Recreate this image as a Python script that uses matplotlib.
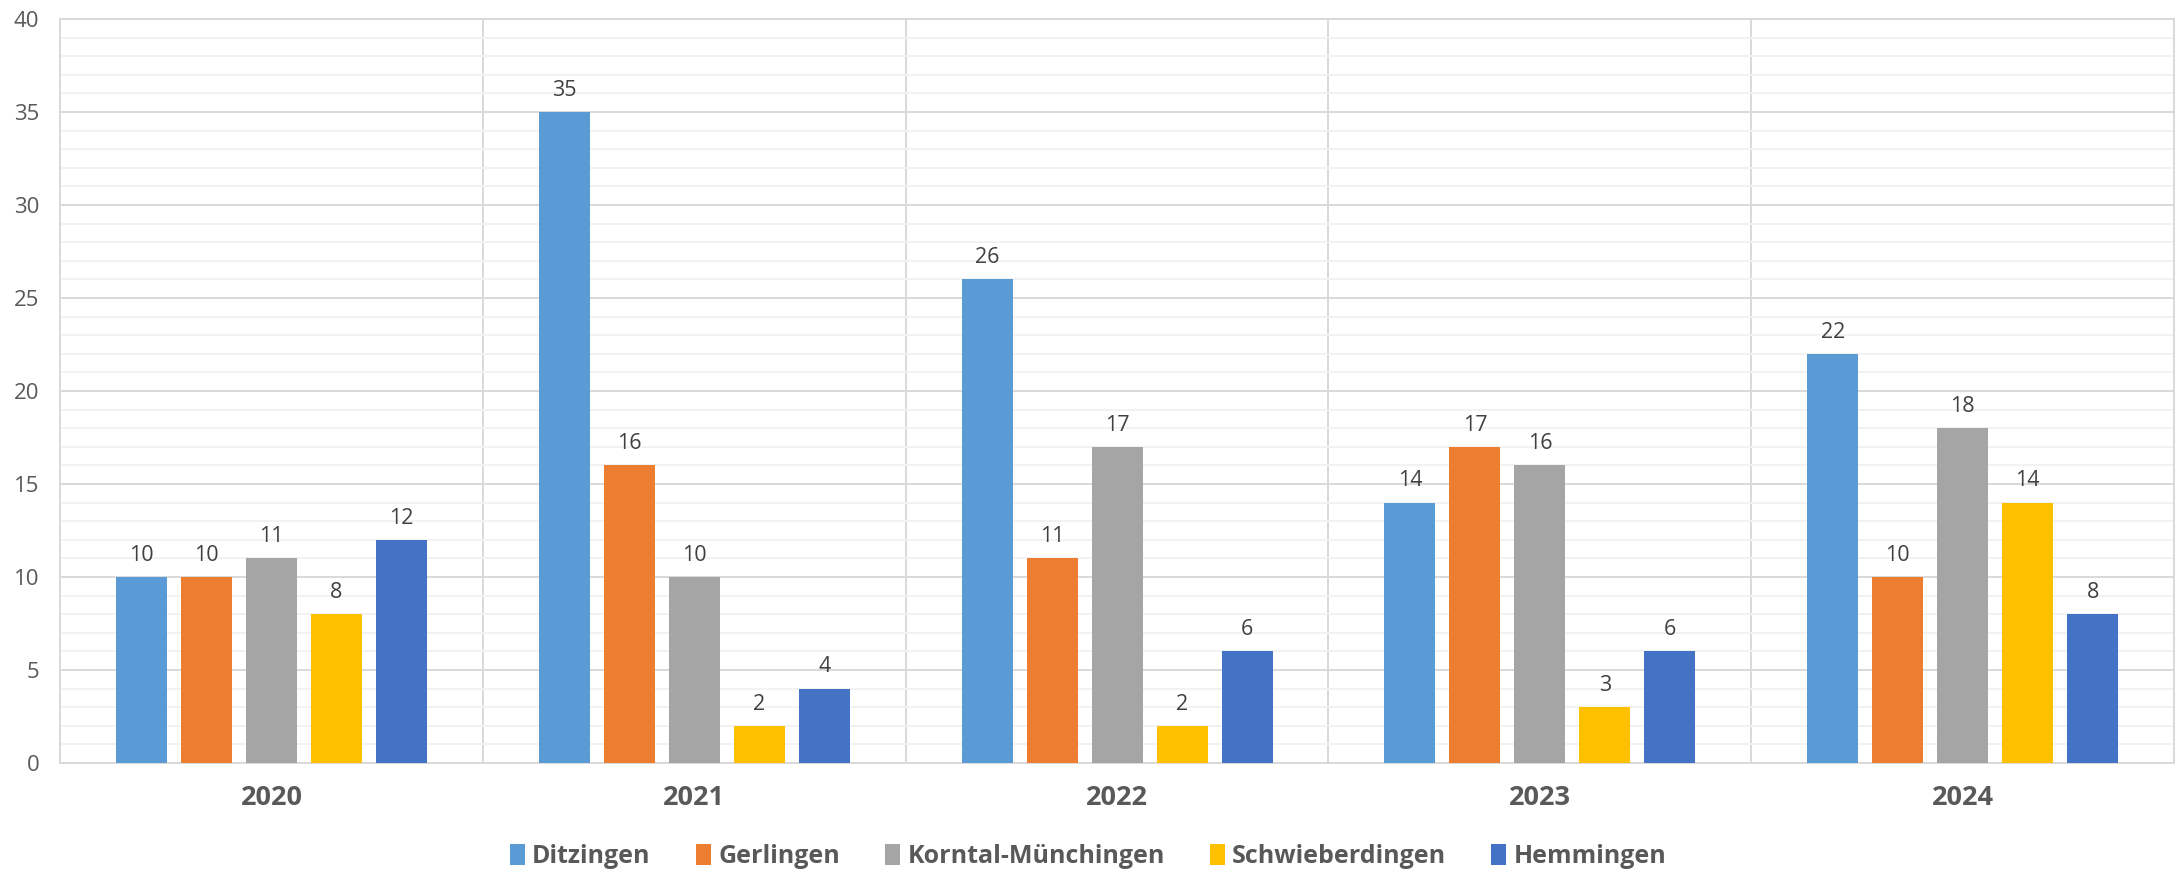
import numpy as np
import matplotlib
matplotlib.use("Agg")
import matplotlib.pyplot as plt
from matplotlib.ticker import MultipleLocator

plt.rcParams['font.family'] = ['Open Sans', 'DejaVu Sans']

years = ["2020", "2021", "2022", "2023", "2024"]
towns = ["Ditzingen", "Gerlingen", "Korntal-Münchingen", "Schwieberdingen", "Hemmingen"]
ditzingen = [10, 35, 26, 14, 22]
gerlingen = [10, 16, 11, 17, 10]
korntal = [11, 10, 17, 16, 18]
schwieberdingen = [8, 2, 2, 3, 14]
hemmingen = [12, 4, 6, 6, 8]
colors = ["#5B9BD5", "#ED7D31", "#A5A5A5", "#FFC000", "#4472C4"]

series = [ditzingen, gerlingen, korntal, schwieberdingen, hemmingen]

fig = plt.figure(figsize=(21.76, 8.76), dpi=100)
ax = fig.add_axes([0.0276, 0.129, 0.9715, 0.8493])

x = np.arange(len(years))
step = 0.1537
width = 0.1206
for i, (vals, name, c) in enumerate(zip(series, towns, colors)):
    bars = ax.bar(x + (i - 2) * step, vals, width, color=c, label=name, zorder=3)
    for b, v in zip(bars, vals):
        ax.annotate(str(v), (b.get_x() + b.get_width() / 2, v),
                    xytext=(0, 8), textcoords="offset points",
                    ha="center", va="bottom", fontsize=15.5, color="#404040")

ax.set_xlim(-0.5, len(years) - 0.5)
ax.set_ylim(0, 40)
ax.yaxis.set_major_locator(MultipleLocator(5))
ax.yaxis.set_minor_locator(MultipleLocator(1))
ax.grid(axis="y", which="major", color="#D9D9D9", lw=1.4, zorder=0)
ax.grid(axis="y", which="minor", color="#F2F2F2", lw=1.4, zorder=0)
# separators between years
for b in np.arange(0.5, len(years) - 0.5, 1):
    ax.axvline(b, color="#D9D9D9", lw=1.4, zorder=0)

for s in ax.spines.values():
    s.set_color("#D9D9D9")
    s.set_linewidth(1.4)

ax.set_xticks(x)
ax.set_xticklabels(years, fontsize=19.5, fontweight="bold", color="#595959")
ax.tick_params(axis="x", length=0, pad=16)
ax.tick_params(axis="y", which="both", length=0, labelsize=16, labelcolor="#595959", pad=15)

fig.legend(loc="lower center", bbox_to_anchor=(0.5, -0.018), ncol=5, frameon=False,
           prop={"size": 18, "weight": "bold"}, labelcolor="#595959",
           handlelength=0.6, handleheight=0.9, handletextpad=0.3, columnspacing=1.8)

fig.savefig("out.png", dpi=100)
